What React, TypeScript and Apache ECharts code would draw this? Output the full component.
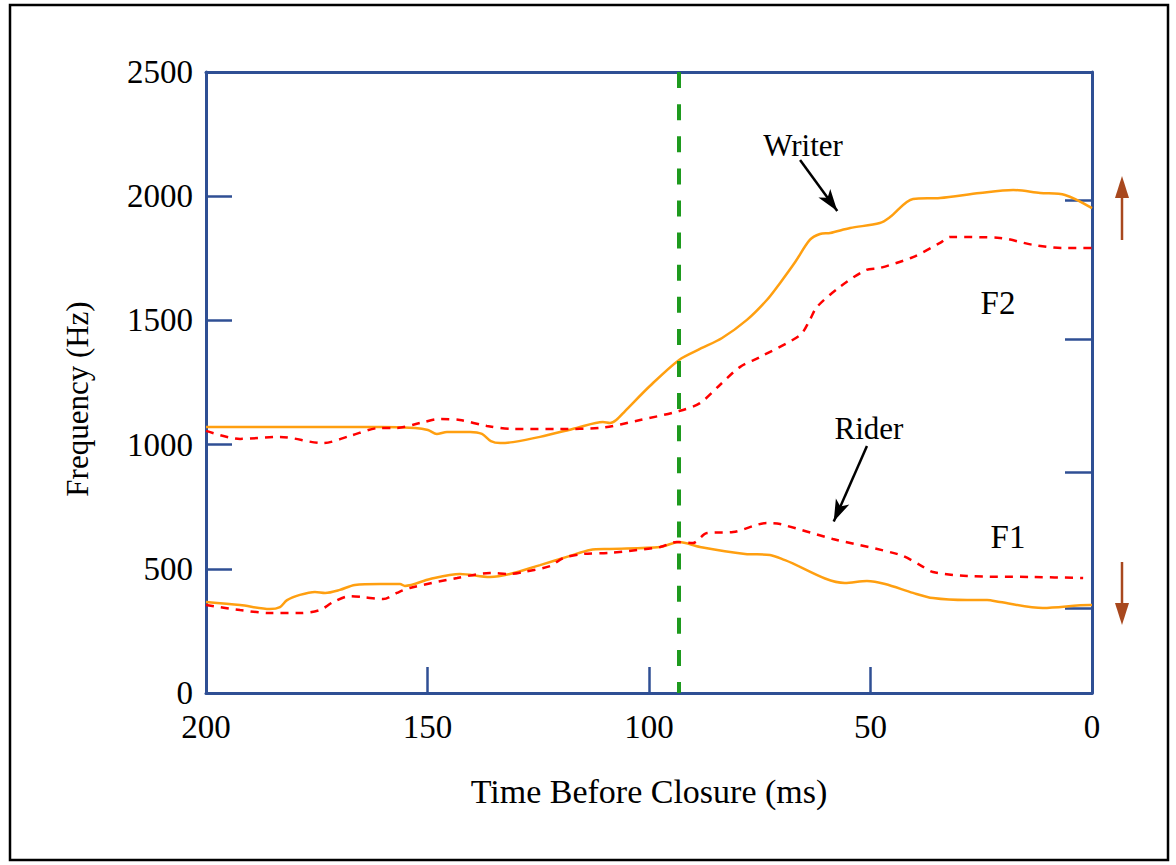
import React, { useEffect, useRef } from "react";
import * as echarts from "echarts";

// Time before closure (ms) / frequency (Hz)
const f2Writer: [number, number][] = [
  [200, 1071], [178.8, 1071], [160.7, 1071], [152.8, 1067], [149.9, 1059], [147.9, 1043],
  [145.6, 1051], [140.4, 1051], [137.7, 1043], [135.7, 1014], [133.6, 1006], [130.7, 1010],
  [124.6, 1031], [116.3, 1067], [110.4, 1091], [108.8, 1087], [107.4, 1099], [105.4, 1135],
  [99.8, 1236], [93.2, 1341], [88.5, 1385], [83.5, 1429], [77.9, 1502], [73.4, 1582],
  [70.4, 1651], [67.0, 1735], [63.7, 1824], [61.4, 1848], [59.1, 1852], [54.6, 1872],
  [47.9, 1892], [45.6, 1916], [40.4, 1989], [34.3, 1993], [25.3, 2013], [17.8, 2025],
  [11.7, 2013], [6.1, 2005], [0, 1952],
];

const f2Rider: [number, number][] = [
  [200, 1055], [192.3, 1023], [183.3, 1031], [173.6, 1006], [167.5, 1035], [160.7, 1067],
  [156.9, 1067], [151.7, 1087], [147.2, 1103], [142.7, 1099], [136.6, 1075], [130.7, 1063],
  [120.1, 1063], [111.1, 1067], [102.0, 1099], [93.2, 1135], [88.5, 1167], [84.0, 1240],
  [79.5, 1312], [74.9, 1353], [65.9, 1441], [63.7, 1502], [62.1, 1554], [56.9, 1635],
  [51.0, 1703], [47.9, 1711], [40.4, 1755], [34.3, 1812], [32.0, 1836], [20.8, 1832],
  [13.3, 1804], [6.5, 1791], [0, 1791],
];

const f1Writer: [number, number][] = [
  [200, 366], [192.3, 354], [185.6, 338], [183.3, 346], [181.7, 374], [178.8, 395],
  [175.4, 407], [173.1, 403], [169.8, 415], [166.4, 435], [160.7, 439], [156.2, 439],
  [155.1, 431], [149.4, 459], [142.7, 479], [135.9, 467], [131.4, 479], [124.6, 515],
  [117.8, 552], [113.3, 576], [108.8, 580], [97.5, 588], [93.2, 608], [88.5, 588],
  [78.3, 560], [72.7, 556], [69.3, 535], [55.8, 443], [50.8, 451], [46.7, 439],
  [40.4, 403], [35.9, 382], [28.2, 374], [23.7, 374], [20.8, 366], [11.1, 342],
  [0.5, 354], [0, 354],
];

const f1Rider: [number, number][] = [
  [200, 354], [192.3, 334], [185.6, 322], [178.8, 322], [174.3, 334], [171.3, 366],
  [167.5, 390], [164.6, 386], [160.0, 378], [156.9, 403], [154.0, 423], [143.3, 463],
  [135.9, 483], [131.4, 479], [128.4, 487], [122.3, 511], [119.4, 543], [114.9, 560],
  [108.8, 564], [97.5, 588], [93.7, 608], [90.1, 604], [86.9, 644], [81.0, 648],
  [73.4, 684], [70.4, 680], [58.5, 620], [43.3, 556], [38.8, 515], [35.9, 487],
  [28.2, 471], [13.3, 467], [2.0, 463],
];

const closureLine = 93.2;
const rightTicks = [342, 890, 1425, 1985];
const writerArrow: [number, number][] = [[65.9, 2146], [57.5, 1940]];
const riderArrow: [number, number][] = [[50.8, 994], [58.3, 690]];

const FONT = "Liberation Serif";
const BLUE = "#2F4F94";
const ORANGE = "#FF9F10";
const RED = "#FF0000";
const BROWN = "#A8481E";

export default function App() {
  const ref = useRef<HTMLDivElement>(null);
  useEffect(() => {
    if (!ref.current) return;
    const chart = echarts.init(ref.current, undefined, { renderer: "svg" });
    const arrowLine = (pts: [number, number][]) => [
      { coord: pts[0], symbol: "none" },
      { coord: pts[1], symbol: "arrow", symbolSize: [11, 22] },
    ];
    const plain = (v: number) => String(v);
    chart.setOption({
      animation: false,
      backgroundColor: "#ffffff",
      grid: { left: 206, top: 72, right: 84, bottom: 172 },
      xAxis: [
        {
          type: "value",
          min: 0,
          max: 200,
          interval: 50,
          inverse: true,
          position: "bottom",
          name: "Time Before Closure (ms)",
          nameLocation: "middle",
          nameGap: 81,
          nameTextStyle: { fontFamily: FONT, fontSize: 34, color: "#000" },
          axisLine: { show: true, onZero: false, lineStyle: { color: BLUE, width: 3 } },
          axisTick: { show: true, inside: true, length: 26, lineStyle: { color: BLUE, width: 2.5 } },
          axisLabel: { fontFamily: FONT, fontSize: 33, color: "#000", margin: 17, formatter: plain },
          splitLine: { show: false },
        },
        {
          type: "value",
          min: 0,
          max: 200,
          inverse: true,
          position: "top",
          axisLine: { show: true, onZero: false, lineStyle: { color: BLUE, width: 3 } },
          axisTick: { show: false },
          axisLabel: { show: false },
          splitLine: { show: false },
        },
      ],
      yAxis: [
        {
          type: "value",
          min: 0,
          max: 2500,
          interval: 500,
          position: "left",
          axisLine: { show: true, onZero: false, lineStyle: { color: BLUE, width: 3 } },
          axisTick: { show: true, inside: true, length: 26, lineStyle: { color: BLUE, width: 2.5 } },
          axisLabel: { fontFamily: FONT, fontSize: 33, color: "#000", margin: 13, formatter: plain },
          splitLine: { show: false },
        },
        {
          type: "value",
          min: 0,
          max: 2500,
          position: "right",
          axisLine: { show: true, onZero: false, lineStyle: { color: BLUE, width: 3 } },
          axisTick: {
            show: true,
            inside: true,
            length: 27,
            customValues: rightTicks,
            lineStyle: { color: BLUE, width: 2.5 },
          },
          axisLabel: { show: false },
          splitLine: { show: false },
        },
      ],
      series: [
        {
          name: "F2 Writer",
          type: "line",
          data: f2Writer,
          smooth: 0.3,
          showSymbol: false,
          symbol: "none",
          z: 3,
          lineStyle: { color: ORANGE, width: 2.5 },
          markLine: {
            silent: true,
            symbol: "none",
            label: { show: false },
            lineStyle: { color: "#1E9A1E", width: 4, type: [16, 16.1], dashOffset: 5 },
            data: [{ xAxis: closureLine }],
          },
        },
        {
          name: "F2 Rider",
          type: "line",
          data: f2Rider,
          smooth: 0.3,
          showSymbol: false,
          symbol: "none",
          z: 3,
          lineStyle: { color: RED, width: 2.5, type: [8, 7] },
        },
        {
          name: "F1 Writer",
          type: "line",
          data: f1Writer,
          smooth: 0.3,
          showSymbol: false,
          symbol: "none",
          z: 3,
          lineStyle: { color: ORANGE, width: 2.5 },
        },
        {
          name: "F1 Rider",
          type: "line",
          data: f1Rider,
          smooth: 0.3,
          showSymbol: false,
          symbol: "none",
          z: 3,
          lineStyle: { color: RED, width: 2.5, type: [8, 7] },
          markLine: {
            silent: true,
            label: { show: false },
            lineStyle: { color: "#000", width: 2.5, type: "solid" },
            itemStyle: { color: "#000" },
            data: [arrowLine(writerArrow), arrowLine(riderArrow)],
          },
        },
      ],
      graphic: [
        {
          type: "rect",
          shape: { x: 10, y: 5, width: 1158, height: 855 },
          style: { fill: "none", stroke: "#000", lineWidth: 2.5 },
          silent: true,
        },
        {
          type: "text",
          x: 77,
          y: 399,
          rotation: Math.PI / 2,
          style: {
            text: "Frequency (Hz)",
            font: `31px "${FONT}"`,
            fill: "#000",
            align: "center",
            verticalAlign: "middle",
          },
        },
        {
          type: "text",
          x: 803,
          y: 145,
          style: { text: "Writer", font: `31px "${FONT}"`, fill: "#000", align: "center", verticalAlign: "middle" },
        },
        {
          type: "text",
          x: 869,
          y: 428,
          style: { text: "Rider", font: `31px "${FONT}"`, fill: "#000", align: "center", verticalAlign: "middle" },
        },
        {
          type: "text",
          x: 998,
          y: 303,
          style: { text: "F2", font: `33px "${FONT}"`, fill: "#000", align: "center", verticalAlign: "middle" },
        },
        {
          type: "text",
          x: 1008,
          y: 537,
          style: { text: "F1", font: `33px "${FONT}"`, fill: "#000", align: "center", verticalAlign: "middle" },
        },
        {
          type: "line",
          shape: { x1: 1122, y1: 240, x2: 1122, y2: 195 },
          style: { stroke: BROWN, lineWidth: 2.5 },
        },
        {
          type: "polygon",
          shape: { points: [[1122, 176], [1129, 198], [1115, 198]] },
          style: { fill: BROWN },
        },
        {
          type: "line",
          shape: { x1: 1122, y1: 562, x2: 1122, y2: 606 },
          style: { stroke: BROWN, lineWidth: 2.5 },
        },
        {
          type: "polygon",
          shape: { points: [[1122, 625], [1129, 603], [1115, 603]] },
          style: { fill: BROWN },
        },
      ],
    });
    return () => chart.dispose();
  }, []);
  return (
    <div
      ref={ref}
      style={{ position: "absolute", left: 0, top: 0, width: 1176, height: 865, background: "#fff" }}
    />
  );
}
